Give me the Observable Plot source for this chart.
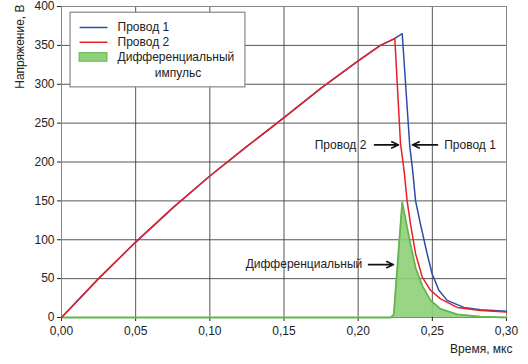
<!DOCTYPE html>
<html><head><meta charset="utf-8">
<script src="https://cdn.jsdelivr.net/npm/d3@7"></script>
<script src="https://cdn.jsdelivr.net/npm/@observablehq/plot@0.6"></script>
<style>body{margin:0;background:#fff;font-family:"Liberation Sans",Arial,sans-serif}</style>
</head><body><div id="chart"></div>
<script>
// Провод 1 (blue)
const t1 = [0,0.025,0.05,0.075,0.10,0.125,0.15,0.175,0.20,0.215,0.224,0.2297,0.2348,0.2368,0.2387,0.242,0.2465,0.2499,0.2544,0.26,0.2712,0.2825,0.30];
const v1 = [0,50,97,141,182,220,257,295,330,350,358,365,220,188,150,120,82,56,35,22,13,10,8];
// Провод 2 (red)
const t2 = [0,0.025,0.05,0.075,0.10,0.125,0.15,0.175,0.20,0.215,0.2247,0.2285,0.2310,0.2330,0.2353,0.2387,0.2432,0.2488,0.2555,0.2668,0.2825,0.30];
const v2 = [0,50,97,141,182,220,257,295,330,350,359,225,188,150,120,82,52,35,24,13,9,7];
// Дифференциальный импульс (green)
const tg = [0,0.222,0.224,0.2297,0.233,0.2353,0.2387,0.2432,0.2488,0.2555,0.2668,0.2825,0.30];
const vg = [0,0,4,148,116,94,64,41,22,11,4,1,0];

const xTicks = [0,0.05,0.10,0.15,0.20,0.25,0.30];
const yTicks = [0,50,100,150,200,250,300,350,400];

const s1 = t1.map((t,i)=>({t, v:v1[i]}));
const s2 = t2.map((t,i)=>({t, v:v2[i]}));
const sg = tg.map((t,i)=>({t, v:vg[i]}));

const blue = "#2b4ea8", red = "#e8202a", green = "#62b74c", greenFill = "#8fd07a";
const fmt = d => d.toFixed(2).replace(".", ",");

// legend (in data space)
const legBox = [{x1:0.0061, x2:0.124, y1:296, y2:392}];
const legLines = [{x1:0.0122,x2:0.0310,y:373,c:blue},{x1:0.0122,x2:0.0310,y:354,c:red}];
const legRect = [{x1:0.0122,x2:0.0310,y1:329,y2:340}];
const legTextL = [{x:0.0378,y:373,s:"Провод 1"},{x:0.0378,y:354,s:"Провод 2"},{x:0.0378,y:335,s:"Дифференциальный"}];
const legTextC = [{x:0.0785,y:314,s:"импульс"}];

const annEnd = [{x:0.2055,y:222,s:"Провод 2"},{x:0.2028,y:68,s:"Дифференциальный"}];
const annStart = [{x:0.258,y:222,s:"Провод 1"}];
const arrows = [{x1:0.211,x2:0.2272,y:222},{x1:0.2535,x2:0.2366,y:222},{x1:0.207,x2:0.2238,y:68}];

const txt = {fontSize: 12, fill:"#222"};
const chart = Plot.plot({
  width: 528, height: 364,
  marginLeft: 61, marginRight: 22, marginTop: 6, marginBottom: 47,
  style: {fontFamily: '"Liberation Sans", Arial, sans-serif', fontSize: "12px", color: "#222", overflow: "visible"},
  x: {domain:[0,0.30], ticks: xTicks, tickFormat: fmt, label: null, tickSize: 4},
  y: {domain:[0,400], ticks: yTicks, label: null, tickSize: 4},
  marks: [
    Plot.gridX(xTicks, {stroke:"#444", strokeOpacity:0.9}),
    Plot.gridY(yTicks, {stroke:"#444", strokeOpacity:0.9}),
    Plot.frame({stroke:"#888"}),
    Plot.axisX({ticks: xTicks, tickFormat: fmt, tickSize: 4, fontSize: 12, tickPadding: 5}),
    Plot.axisY({ticks: yTicks, tickSize: 4, fontSize: 12, tickPadding: 3}),
    Plot.areaY(sg, {x:"t", y:"v", fill: greenFill, fillOpacity: 0.9}),
    Plot.line(sg, {x:"t", y:"v", stroke: green, strokeWidth: 1.8}),
    Plot.line(s1, {x:"t", y:"v", stroke: blue, strokeWidth: 1.5}),
    Plot.line(s2, {x:"t", y:"v", stroke: red, strokeWidth: 1.5}),
    // legend
    Plot.rect(legBox, {x1:"x1", x2:"x2", y1:"y1", y2:"y2", fill:"white", stroke:"#888", strokeWidth:1.2}),
    Plot.link(legLines, {x1:"x1", x2:"x2", y1:"y", y2:"y", stroke: d=>d.c, strokeWidth:1.5}),
    Plot.rect(legRect, {x1:"x1", x2:"x2", y1:"y1", y2:"y2", fill: greenFill, stroke: green}),
    Plot.text(legTextL, {x:"x", y:"y", text:"s", textAnchor:"start", ...txt}),
    Plot.text(legTextC, {x:"x", y:"y", text:"s", textAnchor:"middle", ...txt}),
    // annotations
    Plot.text(annEnd, {x:"x", y:"y", text:"s", textAnchor:"end", ...txt}),
    Plot.text(annStart, {x:"x", y:"y", text:"s", textAnchor:"start", ...txt}),
    Plot.arrow(arrows, {x1:"x1", x2:"x2", y1:"y", y2:"y", stroke:"#111", strokeWidth:1.6, headLength:7, headAngle:50}),
    // axis labels
    Plot.text(["Время, мкс"], {frameAnchor:"bottom-right", textAnchor:"end", dx:6, dy:35, ...txt}),
    Plot.text(["Напряжение, В"], {frameAnchor:"top-left", rotate:-90, textAnchor:"end", dx:-46, dy:-2, ...txt})
  ]
});
document.getElementById("chart").appendChild(chart);
</script>
</body></html>
